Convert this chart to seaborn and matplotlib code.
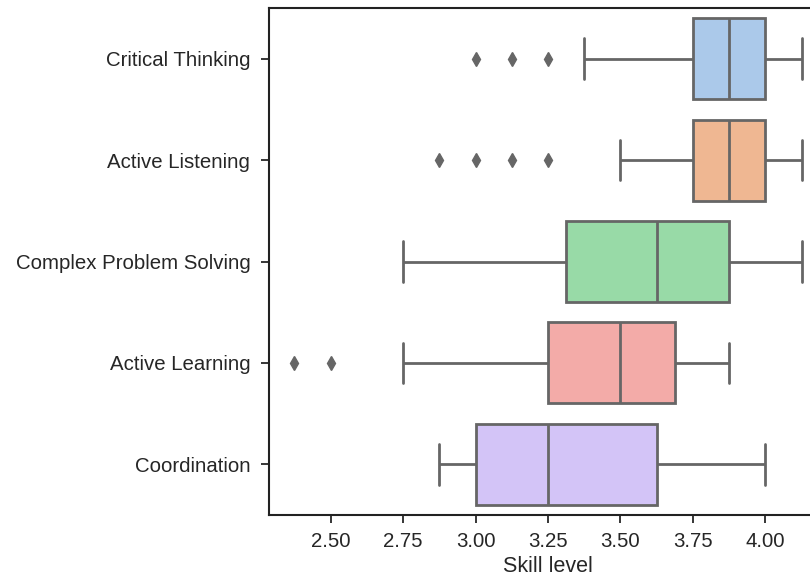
import matplotlib
matplotlib.use("Agg")
import matplotlib.pyplot as plt
import pandas as pd
import seaborn as sns

skills = ["Critical Thinking", "Active Listening", "Complex Problem Solving",
          "Active Learning", "Coordination"]

critical_thinking = [3.0, 3.125, 3.25, 3.375, 3.625, 3.75, 3.75, 3.75, 3.875, 3.875, 3.875,
                     3.875, 4.0, 4.0, 4.0, 4.0, 4.0, 4.125, 4.125, 4.125, 4.125]
active_listening = [2.875, 3.0, 3.125, 3.25, 3.5, 3.75, 3.75, 3.75, 3.875, 3.875, 3.875,
                    3.875, 3.875, 4.0, 4.0, 4.0, 4.0, 4.125, 4.125, 4.125, 4.125]
complex_problem_solving = [2.75, 3.0, 3.125, 3.25, 3.25, 3.3125, 3.375, 3.5, 3.5, 3.625, 3.625,
                           3.625, 3.75, 3.75, 3.875, 3.875, 3.875, 4.0, 4.0, 4.125, 4.125]
active_learning = [2.375, 2.5, 2.75, 3.0, 3.125, 3.25, 3.25, 3.375, 3.375, 3.5, 3.5,
                   3.5, 3.5, 3.625, 3.625, 3.6875, 3.75, 3.75, 3.75, 3.875, 3.875]
coordination = [2.875, 2.875, 3.0, 3.0, 3.0, 3.0, 3.125, 3.125, 3.25, 3.25, 3.25,
                3.375, 3.375, 3.5, 3.5, 3.625, 3.75, 3.75, 3.875, 4.0, 4.0]

values = [critical_thinking, active_listening, complex_problem_solving, active_learning, coordination]
df = pd.DataFrame(
    [(s, v) for s, vals in zip(skills, values) for v in vals],
    columns=["Skill", "Skill level"],
)

sns.set_theme(style="ticks")
plt.rcParams["font.family"] = ["Liberation Sans", "DejaVu Sans"]

fig = plt.figure(figsize=(8.1, 5.75), dpi=100)
# the reference is cropped on the right, so the axes run past the figure edge
ax = fig.add_axes([269 / 810, 1 - 515 / 575, (827 - 269) / 810, 507 / 575])

sns.boxplot(
    data=df, x="Skill level", y="Skill", hue="Skill", order=skills, hue_order=skills,
    palette="pastel", saturation=0.75, width=0.8, linewidth=2, linecolor="#666666",
    flierprops=dict(marker="d", markerfacecolor="#666666", markeredgecolor="#666666",
                    markersize=7),
    legend=False, ax=ax,
)

ax.set_xlim(2.2875, 4.2125)
ax.set_xticks([2.5, 2.75, 3.0, 3.25, 3.5, 3.75, 4.0])
ax.set_xticklabels(["2.50", "2.75", "3.00", "3.25", "3.50", "3.75", "4.00"])
ax.set_ylabel("")
ax.set_xlabel("Skill level", fontsize=15.5, labelpad=3)
ax.tick_params(axis="both", labelsize=14.7, length=6, width=1.3)
ax.tick_params(axis="y", pad=7.5)
ax.tick_params(axis="x", pad=6.5)
for sp in ax.spines.values():
    sp.set_linewidth(1.5)
    sp.set_color("#222222")

fig.savefig("out.png", dpi=100)
